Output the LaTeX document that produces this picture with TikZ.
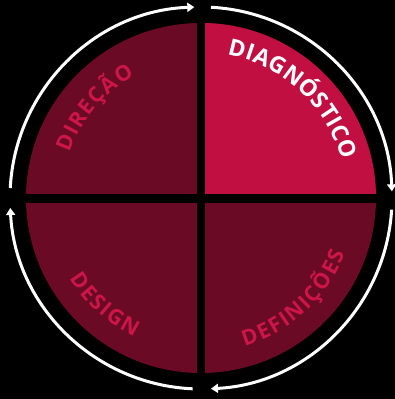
\documentclass[tikz,border=0pt]{standalone}
\usepackage{fontspec}
\setmainfont{Open Sans}
\usetikzlibrary{arrows.meta}
\definecolor{crimson}{HTML}{C20F42}
\definecolor{wine}{HTML}{6A0A24}
\definecolor{winetext}{HTML}{CC1548}
\newcommand\diagfont{\fontsize{23}{27}\selectfont\bfseries}
\newcommand\quadfont{\fontsize{21.5}{25}\selectfont\bfseries}
\newlength\chw
\newlength\totw
% #1 list macro, #2 font, #3 mid angle, #4 baseline radius, #5 direction (-1 cw, 1 ccw), #6 tracking, #7 letters
\newcommand\prepword[7]{%
  \global\totw=0pt
  \foreach \ch in {#7}{\settowidth{\chw}{\normalfont#2\ch}\global\advance\totw by \chw\relax\global\advance\totw by #6pt\relax}%
  \pgfmathsetmacro\startang{#3 - #5*deg(\totw/#4)/2}%
  \xdef\curang{\startang}%
  \gdef\tmplist{}%
  \foreach \ch in {#7}{%
    \settowidth{\chw}{\normalfont#2\ch}%
    \pgfmathsetmacro\halfang{deg((\chw+#6)/(2*#4))}%
    \pgfmathsetmacro\midang{\curang + #5*\halfang}%
    \pgfmathsetmacro\nextang{\curang + 2*#5*\halfang}%
    \xdef\curang{\nextang}%
    \ifx\tmplist\empty\xdef\tmplist{\midang/\ch}\else\xdef\tmplist{\tmplist,\midang/\ch}\fi
  }%
  \global\let#1\tmplist
}
\AtBeginDocument{%
  \prepword{\wldiag}{\diagfont}{47.3}{145.8}{-1}{0.4}{D,I,A,G,N,Ó,S,T,I,C,O}%
  \prepword{\wldir}{\quadfont}{139.75}{138.8}{-1}{1.3}{D,I,R,E,Ç,Ã,O}%
  \prepword{\wldes}{\quadfont}{228}{154}{1}{1.6}{D,E,S,I,G,N}%
  \prepword{\wldef}{\quadfont}{-47.4}{154.7}{1}{1.7}{D,E,F,I,N,I,Ç,Õ,E,S}%
}
\tikzset{
  cycarrow/.style={draw=white,line width=3pt,-{Triangle[length=7pt,width=9pt]}},
  arcletter/.style={anchor=base,inner sep=0pt},
}
% #1 list, #2 font, #3 colour, #4 radius, #5 direction
\newcommand\drawword[5]{%
  \foreach \a/\c in #1{%
    \pgfmathsetmacro\rotang{\a + #5*90}%
    \node[arcletter,text=#3,font=#2,rotate=\rotang] at (\a:#4pt) {\c};%
  }%
}
\begin{document}
\begin{tikzpicture}[x=1pt,y=1pt]
\fill[black] (-201pt,-201pt) rectangle (194pt,198pt);
\useasboundingbox (-201pt,-201pt) rectangle (194pt,198pt);
% quadrants
\fill[wine] (0,0) circle[radius=175pt];
\fill[crimson] (0,0) -- (0:175pt) arc[start angle=0,end angle=90,radius=175pt] -- cycle;
\draw[black,line width=9pt] (-180pt,0) -- (180pt,0);
\draw[black,line width=8pt] (0,-180pt) -- (0,180pt);
% cycle arrows
\draw[cycarrow] (177:191pt) arc[start angle=177,end angle=92,radius=191pt];
\draw[cycarrow] (87:191pt) arc[start angle=87,end angle=2,radius=191pt];
\draw[cycarrow] (-3.5:191pt) arc[start angle=-3.5,end angle=-87,radius=191pt];
\draw[cycarrow] (-92.5:191pt) arc[start angle=-92.5,end angle=-177,radius=191pt];
% labels
\drawword{\wldiag}{\diagfont}{white}{145.8}{-1}
\drawword{\wldir}{\quadfont}{winetext}{138.8}{-1}
\drawword{\wldes}{\quadfont}{winetext}{154}{1}
\drawword{\wldef}{\quadfont}{winetext}{154.7}{1}
\end{tikzpicture}
\end{document}
